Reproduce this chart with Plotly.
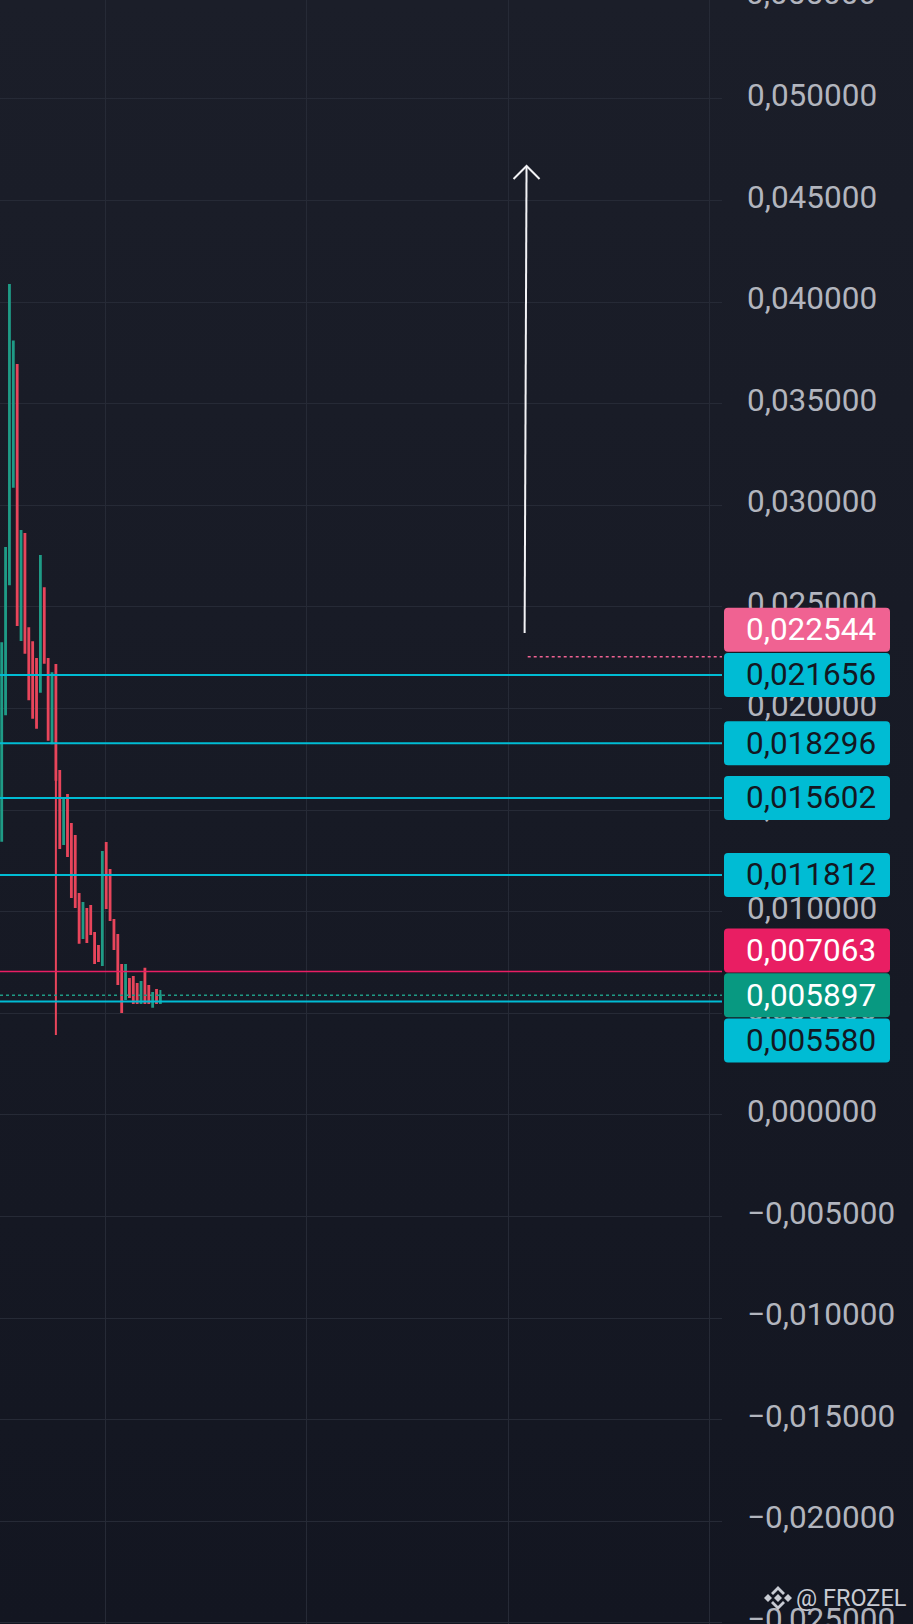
import base64
import plotly.graph_objects as go

# candles, oldest first
candle_open = [0.01350, 0.01972, 0.02612, 0.03092, 0.03691, 0.02338, 0.02859, 0.02395,
               0.02326, 0.02244, 0.02083, 0.02592, 0.02244, 0.01829, 0.02215, 0.01693,
               0.01334, 0.01575, 0.01432, 0.01373, 0.01088, 0.00871, 0.01014, 0.01029,
               0.00896, 0.00832, 0.00738, 0.01339, 0.01206, 0.00960, 0.00886, 0.00738,
               0.00571, 0.00669, 0.00679, 0.00645, 0.00551, 0.00719, 0.00635, 0.00532,
               0.00615, 0.00551]
candle_high = [0.02321, 0.02790, 0.04085, 0.03806, 0.03691, 0.02874, 0.02859, 0.02395,
               0.02326, 0.02244, 0.02751, 0.02592, 0.02244, 0.02174, 0.02215, 0.01693,
               0.01560, 0.01575, 0.01432, 0.01373, 0.01088, 0.01043, 0.01014, 0.01029,
               0.00896, 0.00832, 0.01294, 0.01339, 0.01206, 0.00960, 0.00886, 0.00738,
               0.00738, 0.00669, 0.00679, 0.00645, 0.00655, 0.00719, 0.00635, 0.00600,
               0.00615, 0.00615]
candle_low = [0.01350, 0.01972, 0.02612, 0.03092, 0.02411, 0.02338, 0.02275, 0.02046,
              0.01955, 0.01906, 0.02083, 0.02226, 0.01846, 0.01829, 0.00394, 0.01314,
              0.01334, 0.01275, 0.01073, 0.01024, 0.00847, 0.00871, 0.00851, 0.00891,
              0.00748, 0.00758, 0.00738, 0.01019, 0.00960, 0.00817, 0.00645, 0.00507,
              0.00571, 0.00581, 0.00551, 0.00551, 0.00551, 0.00551, 0.00551, 0.00532,
              0.00551, 0.00551]
candle_close = [0.02321, 0.02790, 0.04085, 0.03806, 0.02411, 0.02874, 0.02275, 0.02046,
                0.01955, 0.01906, 0.02751, 0.02226, 0.01846, 0.02174, 0.01650, 0.01314,
                0.01560, 0.01275, 0.01073, 0.01024, 0.00847, 0.01043, 0.00851, 0.00891,
                0.00748, 0.00758, 0.01294, 0.01019, 0.00960, 0.00817, 0.00645, 0.00507,
                0.00738, 0.00581, 0.00551, 0.00551, 0.00655, 0.00551, 0.00551, 0.00600,
                0.00551, 0.005897]

# drawn levels
support_levels = [0.021656, 0.018296, 0.015602, 0.011812, 0.005580]
red_level = 0.007063
last_price = 0.005897
target_start = 0.022544

# arrow drawing (bar index, price)
arrow_x = [135.1, 135.6]
arrow_y = [0.02372, 0.04670]

# price scale tags: value, box colour, text colour
tag_values = [0.022544, 0.021656, 0.018296, 0.015602, 0.011812, 0.007063, 0.005897, 0.005580]
tag_colors = ["#f06292", "#00bcd4", "#00bcd4", "#00bcd4", "#00bcd4", "#e91e63", "#089981", "#00bcd4"]
tag_text_colors = ["#ffffff", "#131722", "#131722", "#131722", "#131722", "#ffffff", "#ffffff", "#131722"]
tag_nudge = [27, 0, 0, 0, 0, 21, 0, -39]   # px, keeps the tags from overlapping

GREEN = "#1f9b86"
RED = "#e8455b"
CYAN = "#00bcd4"
GRID = "#262a36"

W, H = 913, 1624
PLOT_W = 722
Y_RANGE = [-0.02505, 0.05487]
FONT_SIZE = 31.5


def fmt(v):
    return f"{v:.6f}".replace(".", ",")


def rounded_box(x0, x1, yc, h, r):
    yb, yt = yc - h / 2, yc + h / 2
    return (f"M{x0 + r},{yb} L{x1 - r},{yb} Q{x1},{yb} {x1},{yb + r} "
            f"L{x1},{yt - r} Q{x1},{yt} {x1 - r},{yt} L{x0 + r},{yt} "
            f"Q{x0},{yt} {x0},{yt - r} L{x0},{yb + r} Q{x0},{yb} {x0 + r},{yb} Z")


fig = go.Figure()

fig.add_trace(go.Candlestick(
    x=list(range(len(candle_open))),
    open=candle_open, high=candle_high, low=candle_low, close=candle_close,
    increasing=dict(line=dict(color=GREEN, width=2), fillcolor=GREEN),
    decreasing=dict(line=dict(color=RED, width=2), fillcolor=RED),
    whiskerwidth=0, hoverinfo="skip", showlegend=False,
))

shapes = []
for lv in support_levels:
    shapes.append(dict(type="line", xref="paper", x0=0, x1=1, yref="y", y0=lv, y1=lv,
                       line=dict(color=CYAN, width=2), layer="above"))
shapes.append(dict(type="line", xref="paper", x0=0, x1=1, yref="y", y0=red_level, y1=red_level,
                   line=dict(color="#e91e63", width=1.5), layer="above"))
shapes.append(dict(type="line", xref="paper", x0=0, x1=1, yref="y", y0=last_price, y1=last_price,
                   line=dict(color=GREEN, width=1.5, dash="dot"), layer="above"))
shapes.append(dict(type="line", xref="x", x0=arrow_x[0] + 0.8, x1=186.1, yref="y",
                   y0=target_start, y1=target_start,
                   line=dict(color="#f06292", width=1.5, dash="dot"), layer="above"))

# arrow
shapes.append(dict(type="line", xref="x", yref="y", x0=arrow_x[0], y0=arrow_y[0],
                   x1=arrow_x[1], y1=arrow_y[1], line=dict(color="#f2f2f5", width=2)))
shapes.append(dict(type="path", xref="x", yref="y", xsizemode="pixel", ysizemode="pixel",
                   xanchor=arrow_x[1], yanchor=arrow_y[1],
                   path="M-13,-13 L0,0 L13,-13", line=dict(color="#f2f2f5", width=2)))

# price tags on the scale
for v, c, n in zip(tag_values, tag_colors, tag_nudge):
    shapes.append(dict(type="path", xref="paper", yref="y", xsizemode="pixel", ysizemode="pixel",
                       xanchor=1, yanchor=v, path=rounded_box(2, 168, n, 44, 4),
                       fillcolor=c, line=dict(width=0), layer="above"))

# watermark logo
logo = ("M0,-4 L4,0 L0,4 L-4,0 Z "
        "M-10,-4 L-6,0 L-10,4 L-14,0 Z M10,-4 L14,0 L10,4 L6,0 Z "
        "M-7,5 L0,12 L7,5 L5,3 L0,8 L-5,3 Z M-7,-5 L0,-12 L7,-5 L5,-3 L0,-8 L-5,-3 Z")
shapes.append(dict(type="path", xref="paper", yref="paper", xsizemode="pixel", ysizemode="pixel",
                   xanchor=778 / PLOT_W, yanchor=26 / H, path=logo,
                   fillcolor="#c8cbd3", line=dict(width=0)))

annotations = []
for v, tc, n in zip(tag_values, tag_text_colors, tag_nudge):
    annotations.append(dict(xref="paper", x=1, xanchor="left", xshift=22, yref="y", y=v,
                            yshift=n, yanchor="middle", text=fmt(v), showarrow=False,
                            font=dict(family="Roboto", size=FONT_SIZE, color=tc)))
# top tick cut by the page edge
annotations.append(dict(xref="paper", x=1, xanchor="left", xshift=22, yref="paper",
                        y=(0.055 - Y_RANGE[0]) / (Y_RANGE[1] - Y_RANGE[0]), yanchor="middle",
                        yshift=4, text=fmt(0.055), showarrow=False,
                        font=dict(family="Roboto", size=FONT_SIZE, color="#b2b5be")))
annotations.append(dict(xref="paper", x=1, xanchor="left", xshift=72, yref="paper", y=26 / H,
                        yanchor="middle", text="@ FROZEL", showarrow=False,
                        font=dict(family="Roboto", size=23.5, color="#c8cbd3")))

svg = ("<svg xmlns='http://www.w3.org/2000/svg' width='913' height='1624'>"
       "<defs><linearGradient id='g' x1='0' y1='0' x2='0' y2='1'>"
       "<stop offset='0' stop-color='#1b1e29'/><stop offset='1' stop-color='#131621'/>"
       "</linearGradient></defs><rect width='913' height='1624' fill='url(#g)'/></svg>")
bg_src = "data:image/svg+xml;base64," + base64.b64encode(svg.encode()).decode()

fig.update_layout(
    width=W, height=H,
    margin=dict(l=0, r=W - PLOT_W, t=0, b=0, pad=0),
    paper_bgcolor="#171a25",
    plot_bgcolor="rgba(0,0,0,0)",
    separators=", ",
    boxgap=0.7,
    showlegend=False,
    shapes=shapes,
    annotations=annotations,
    images=[dict(source=bg_src, xref="paper", yref="paper", x=0, y=1, sizex=W / PLOT_W, sizey=1,
                 xanchor="left", yanchor="top", sizing="stretch", layer="below")],
    xaxis=dict(range=[-0.44, 186.1], showticklabels=False, showgrid=True, gridcolor=GRID,
               tick0=26.85, dtick=52, zeroline=False, rangeslider=dict(visible=False),
               fixedrange=True, automargin=False),
    yaxis=dict(range=Y_RANGE, side="right", dtick=0.005, tick0=0, tickformat=".6f",
               showgrid=True, gridcolor=GRID, zeroline=False, ticks="", automargin=False,
               ticklabelstandoff=24, ticklabelshift=-4, ticklabeloverflow="allow",
               tickfont=dict(family="Roboto", size=FONT_SIZE, color="#b2b5be")),
)

# page margin off so the chart sits flush with the window
fig.write_html("out.html", config={"displayModeBar": False},
               post_script="document.body.style.margin='0';document.body.style.overflow='hidden';")
